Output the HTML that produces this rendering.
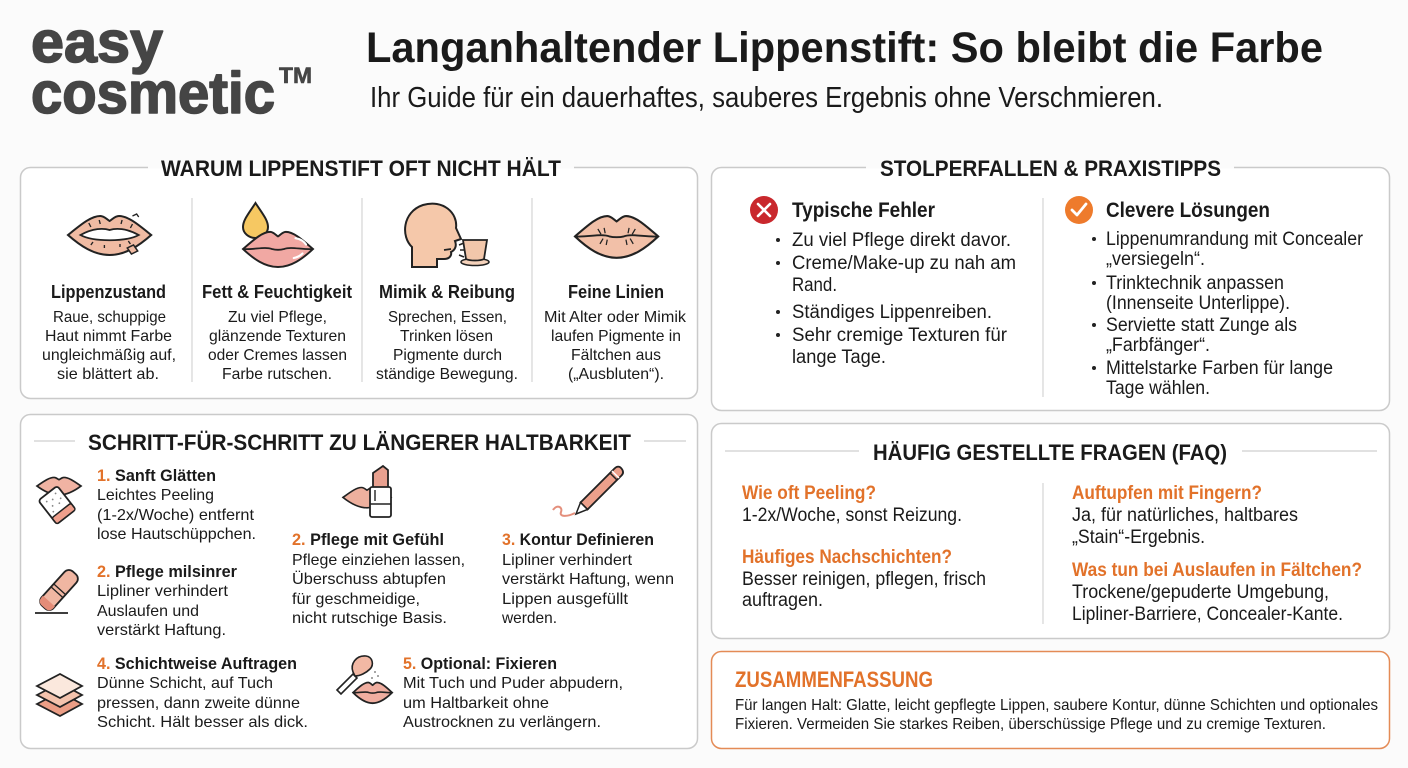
<!DOCTYPE html>
<html><head><meta charset="utf-8">
<style>
html,body{margin:0;padding:0;background:#fbfbfb;}
svg{display:block;}
text{font-family:"Liberation Sans Narrow","Liberation Sans",sans-serif;fill:#1a1a1a;}
.b{font-weight:700;}
.o{fill:#e2722a;}
.lg{fill:#454545;font-family:"Liberation Sans",sans-serif;font-weight:700;stroke:#454545;stroke-width:1.6;stroke-linejoin:round;}
</style></head>
<body>
<svg width="1408" height="768" viewBox="0 0 1408 768" xmlns="http://www.w3.org/2000/svg">
<defs>
<path id="lips" d="M0,20 C12,10 22,1 31,1 C35,1 38,5 40,6 C42,5 45,1 49,1 C58,1 68,10 80,20 C68,31 55,40 40,40 C25,40 12,31 0,20 Z"/>
</defs>
<rect width="1408" height="768" fill="#fbfbfb"/>

<!-- Header -->
<text class="lg" x="31" y="62" font-size="58" textLength="132" lengthAdjust="spacingAndGlyphs">easy</text>
<text class="lg" x="31" y="113" font-size="58" textLength="244" lengthAdjust="spacingAndGlyphs">cosmetic</text>
<text class="lg" x="279" y="83" font-size="22" textLength="33" lengthAdjust="spacingAndGlyphs" style="stroke-width:0.6">TM</text>
<text class="b" x="366" y="62" font-size="43" fill="#111" textLength="957" lengthAdjust="spacingAndGlyphs">Langanhaltender Lippenstift: So bleibt die Farbe</text>
<text x="370" y="107" font-size="29" textLength="793" lengthAdjust="spacingAndGlyphs">Ihr Guide für ein dauerhaftes, sauberes Ergebnis ohne Verschmieren.</text>

<!-- Boxes -->
<rect x="20.5" y="167.5" width="677" height="231" rx="10" fill="#fff" stroke="#cacaca" stroke-width="1.5"/>
<rect x="20.5" y="414.5" width="677" height="334" rx="10" fill="#fff" stroke="#cacaca" stroke-width="1.5"/>
<rect x="711.5" y="167.5" width="678" height="243" rx="10" fill="#fff" stroke="#cacaca" stroke-width="1.5"/>
<rect x="711.5" y="423.5" width="678" height="215" rx="10" fill="#fff" stroke="#cacaca" stroke-width="1.5"/>
<rect x="711.5" y="651.5" width="678" height="97" rx="10" fill="#fff" stroke="#e48b56" stroke-width="1.5"/>

<!-- Section 1 -->
<rect x="148" y="155" width="426" height="26" fill="#fbfbfb"/>
<rect x="148" y="168.5" width="426" height="14" fill="#fff"/>
<text class="b" x="161" y="176" font-size="22" textLength="400" lengthAdjust="spacingAndGlyphs">WARUM LIPPENSTIFT OFT NICHT HÄLT</text>
<line x1="192" y1="198" x2="192" y2="382" stroke="#d4d4d4" stroke-width="1.2"/>
<line x1="362" y1="198" x2="362" y2="382" stroke="#d4d4d4" stroke-width="1.2"/>
<line x1="532" y1="198" x2="532" y2="382" stroke="#d4d4d4" stroke-width="1.2"/>

<!-- icon 1 rough lips -->
<g transform="translate(68,215) scale(1.04,1)">
<use href="#lips" fill="#f0bba3" stroke="#222" stroke-width="2"/>
<path d="M12,20 C24,13 34,13 40,15 C46,13 56,13 68,20 C56,27 24,27 12,20 Z" fill="#fff" stroke="#222" stroke-width="1.8"/>
<path d="M20,8 l2,4 M30,5 l1,4 M52,5 l-1,4 M62,9 l-2,4 M22,30 l2,-3 M35,33 l0,-3 M50,32 l0,-3 M60,29 l-2,-3" stroke="#222" stroke-width="1.3"/>
<path d="M57,33 l6,-3 l4,6 l-6,3 Z" fill="#f0bba3" stroke="#222" stroke-width="1.5"/>
<path d="M62,1 l4,-2 l2,3" fill="none" stroke="#222" stroke-width="1.3"/>
</g>
<!-- icon 2 drop + glossy lips -->
<path d="M255.5,203 C262,213 268,220 268,227 A12.5,11 0 0 1 243,227 C243,220 249,213 255.5,203 Z" fill="#f6c862" stroke="#222" stroke-width="2"/>
<g transform="translate(243,231) scale(0.875,0.9)">
<use href="#lips" fill="#f1a8a3" stroke="#222" stroke-width="2.2"/>
<path d="M0,20 C12,21 25,17 33,20 C37,21 43,21 47,20 C55,17 68,21 80,20" fill="none" stroke="#222" stroke-width="2"/>
<path d="M60,8 C66,9 70,12 72,15 M58,30 C63,29 66,27 68,25" fill="none" stroke="#fff" stroke-width="2.4" stroke-linecap="round"/>
</g>
<!-- icon 3 head + cup -->
<path d="M412,267 L412,247 C401,237 402,212 423,205 C443,199 458,213 456,228 L461,239 L455,241 C457,246 455,250 451,252 C452,256 449,259 444,259 L437,259 L437,267 Z" fill="#f5c8aa" stroke="#222" stroke-width="2"/>
<path d="M444,250 l7,-1" stroke="#222" stroke-width="1.8"/>
<path d="M459,245 l5,-2 M460,250 l5,0 M459,255 l5,2" stroke="#222" stroke-width="1.5"/>
<ellipse cx="475" cy="262" rx="14" ry="3.5" fill="#f5d2bb" stroke="#222" stroke-width="1.6"/>
<path d="M463,240 L487,240 L484,259 C480,261 470,261 466,259 Z" fill="#f2c7ab" stroke="#222" stroke-width="1.8"/>
<!-- icon 4 lips with lines -->
<g transform="translate(575,215) scale(1.04,1.07)">
<use href="#lips" fill="#f2c0a8" stroke="#222" stroke-width="2"/>
<path d="M0,20 C12,21 25,17 33,20 C37,21 43,21 47,20 C55,17 68,21 80,20" fill="none" stroke="#222" stroke-width="1.8"/>
<path d="M22,13 l3,5 M28,12 l1,5 M52,12 l-1,5 M58,13 l-3,5 M24,27 l3,-5 M30,28 l1,-5 M50,28 l-1,-5 M56,27 l-3,-5" stroke="#222" stroke-width="1.2"/>
</g>

<text class="b" x="51" y="298" font-size="18" textLength="115" lengthAdjust="spacingAndGlyphs">Lippenzustand</text>
<text x="53" y="322" font-size="16" textLength="113" lengthAdjust="spacingAndGlyphs">Raue, schuppige</text>
<text x="45" y="341" font-size="16" textLength="127" lengthAdjust="spacingAndGlyphs">Haut nimmt Farbe</text>
<text x="42" y="360" font-size="16" textLength="134" lengthAdjust="spacingAndGlyphs">ungleichmäßig auf,</text>
<text x="57" y="379" font-size="16" textLength="102" lengthAdjust="spacingAndGlyphs">sie blättert ab.</text>

<text class="b" x="202" y="298" font-size="18" textLength="150" lengthAdjust="spacingAndGlyphs">Fett &amp; Feuchtigkeit</text>
<text x="228" y="322" font-size="16" textLength="99" lengthAdjust="spacingAndGlyphs">Zu viel Pflege,</text>
<text x="209" y="341" font-size="16" textLength="137" lengthAdjust="spacingAndGlyphs">glänzende Texturen</text>
<text x="208" y="360" font-size="16" textLength="139" lengthAdjust="spacingAndGlyphs">oder Cremes lassen</text>
<text x="222" y="379" font-size="16" textLength="110" lengthAdjust="spacingAndGlyphs">Farbe rutschen.</text>

<text class="b" x="379" y="298" font-size="18" textLength="136" lengthAdjust="spacingAndGlyphs">Mimik &amp; Reibung</text>
<text x="388" y="322" font-size="16" textLength="119" lengthAdjust="spacingAndGlyphs">Sprechen, Essen,</text>
<text x="400" y="341" font-size="16" textLength="93" lengthAdjust="spacingAndGlyphs">Trinken lösen</text>
<text x="393" y="360" font-size="16" textLength="109" lengthAdjust="spacingAndGlyphs">Pigmente durch</text>
<text x="376" y="379" font-size="16" textLength="142" lengthAdjust="spacingAndGlyphs">ständige Bewegung.</text>

<text class="b" x="568" y="298" font-size="18" textLength="96" lengthAdjust="spacingAndGlyphs">Feine Linien</text>
<text x="544" y="322" font-size="16" textLength="142" lengthAdjust="spacingAndGlyphs">Mit Alter oder Mimik</text>
<text x="551" y="341" font-size="16" textLength="130" lengthAdjust="spacingAndGlyphs">laufen Pigmente in</text>
<text x="571" y="360" font-size="16" textLength="90" lengthAdjust="spacingAndGlyphs">Fältchen aus</text>
<text x="568" y="379" font-size="16" textLength="96" lengthAdjust="spacingAndGlyphs">(„Ausbluten“).</text>

<!-- Section 2 -->
<line x1="34" y1="441" x2="75" y2="441" stroke="#cfcfcf" stroke-width="1.2"/>
<line x1="644" y1="441" x2="686" y2="441" stroke="#cfcfcf" stroke-width="1.2"/>
<text class="b" x="88" y="450" font-size="22" textLength="543" lengthAdjust="spacingAndGlyphs">SCHRITT-FÜR-SCHRITT ZU LÄNGERER HALTBARKEIT</text>

<!-- step icons -->
<g transform="translate(37,477) scale(0.55,0.45)">
<use href="#lips" fill="#f0b3a3" stroke="#222" stroke-width="3.5"/>
</g>
<g transform="rotate(-38 57 505)">
<rect x="45" y="490" width="24" height="30" rx="3" fill="#fff" stroke="#222" stroke-width="1.8"/>
<rect x="45" y="512" width="24" height="8" rx="2" fill="#ef9f8c" stroke="#222" stroke-width="1.5"/>
<circle cx="51" cy="496" r="0.9" fill="#888"/><circle cx="57" cy="498" r="0.9" fill="#888"/><circle cx="63" cy="495" r="0.9" fill="#888"/>
<circle cx="53" cy="503" r="0.9" fill="#888"/><circle cx="60" cy="505" r="0.9" fill="#888"/><circle cx="50" cy="508" r="0.9" fill="#888"/><circle cx="64" cy="502" r="0.9" fill="#888"/>
</g>
<g transform="rotate(-48 59 590)">
<rect x="36" y="582" width="46" height="16" rx="6" fill="#f0b6a2" stroke="#222" stroke-width="1.8"/>
<line x1="56" y1="582" x2="56" y2="598" stroke="#222" stroke-width="1.3"/>
<line x1="60" y1="582" x2="60" y2="598" stroke="#222" stroke-width="1.3"/>
<path d="M36,588 C36,582 40,582 44,582 L44,598 C40,598 36,598 36,592 Z" fill="#e48c78"/>
</g>
<line x1="35" y1="613" x2="68" y2="613" stroke="#222" stroke-width="1.8"/>
<path d="M37,704 L60,692 L82,704 L60,716 Z" fill="#ec9e86" stroke="#222" stroke-width="1.8"/>
<path d="M37,695 L60,683 L82,695 L60,707 Z" fill="#f4c3ad" stroke="#222" stroke-width="1.8"/>
<path d="M37,686 L60,674 L82,686 L60,698 Z" fill="#fbe8dd" stroke="#222" stroke-width="1.8"/>
<!-- lipstick -->
<g transform="translate(343,487) scale(0.6,0.52)">
<use href="#lips" fill="#eeb09e" stroke="#222" stroke-width="3"/>
</g>
<path d="M373,488 L373,473 L383,466 L388,470 L388,488 Z" fill="#e8a08f" stroke="#222" stroke-width="1.8"/>
<rect x="370" y="487" width="21" height="30" rx="2" fill="#fff" stroke="#222" stroke-width="1.8"/>
<line x1="370" y1="504" x2="391" y2="504" stroke="#222" stroke-width="1.4"/>
<line x1="375" y1="490" x2="375" y2="501" stroke="#222" stroke-width="1.4"/>
<!-- pencil -->
<path d="M553,510 C557,504 563,507 561,512 C559,517 567,517 575,513" fill="none" stroke="#e48f7c" stroke-width="2"/>
<path d="M587.5,509.5 L580.5,502.5 L614.5,468.5 C617,466 619.5,466 621.5,468.5 C623.5,471 623.5,473.5 621.5,475.5 Z" fill="#eca08b" stroke="#222" stroke-width="1.8"/>
<path d="M580.5,502.5 L576,514 L587.5,509.5 Z" fill="#fff" stroke="#222" stroke-width="1.5"/>
<path d="M610,473 L617,480" stroke="#222" stroke-width="1.5"/>
<path d="M612,471 L619,478" stroke="#fff" stroke-width="1.5"/>
<!-- brush + lips -->
<path d="M337,690 L353,674 L357,678 L341,694 Z" fill="#fff" stroke="#222" stroke-width="1.6"/>
<path d="M353,672 C350,664 356,655 366,656 C373,657 374,665 370,669 C366,673 360,676 355,676 Z" fill="#f2b8a4" stroke="#222" stroke-width="1.6"/>
<circle cx="375" cy="672" r="0.9" fill="#666"/><circle cx="378" cy="676" r="0.9" fill="#666"/><circle cx="372" cy="678" r="0.9" fill="#666"/>
<g transform="translate(353,682) scale(0.49,0.53)">
<use href="#lips" fill="#f0aea0" stroke="#222" stroke-width="3.4"/>
<path d="M0,20 C12,21 25,17 33,20 C37,21 43,21 47,20 C55,17 68,21 80,20" fill="none" stroke="#222" stroke-width="3"/>
</g>

<text class="b" x="97" y="481" font-size="17" textLength="119" lengthAdjust="spacingAndGlyphs"><tspan class="o">1.</tspan> Sanft Glätten</text>
<text x="97" y="500" font-size="16" textLength="117" lengthAdjust="spacingAndGlyphs">Leichtes Peeling</text>
<text x="97" y="520" font-size="16" textLength="157" lengthAdjust="spacingAndGlyphs">(1-2x/Woche) entfernt</text>
<text x="97" y="539" font-size="16" textLength="159" lengthAdjust="spacingAndGlyphs">lose Hautschüppchen.</text>

<text class="b" x="97" y="577" font-size="17" textLength="140" lengthAdjust="spacingAndGlyphs"><tspan class="o">2.</tspan> Pflege milsinrer</text>
<text x="97" y="596" font-size="16" textLength="131" lengthAdjust="spacingAndGlyphs">Lipliner verhindert</text>
<text x="97" y="616" font-size="16" textLength="102" lengthAdjust="spacingAndGlyphs">Auslaufen und</text>
<text x="97" y="635" font-size="16" textLength="129" lengthAdjust="spacingAndGlyphs">verstärkt Haftung.</text>

<text class="b" x="97" y="669" font-size="17" textLength="200" lengthAdjust="spacingAndGlyphs"><tspan class="o">4.</tspan> Schichtweise Auftragen</text>
<text x="97" y="688" font-size="16" textLength="176" lengthAdjust="spacingAndGlyphs">Dünne Schicht, auf Tuch</text>
<text x="97" y="708" font-size="16" textLength="203" lengthAdjust="spacingAndGlyphs">pressen, dann zweite dünne</text>
<text x="97" y="727" font-size="16" textLength="211" lengthAdjust="spacingAndGlyphs">Schicht. Hält besser als dick.</text>

<text class="b" x="292" y="545" font-size="17" textLength="152" lengthAdjust="spacingAndGlyphs"><tspan class="o">2.</tspan> Pflege mit Gefühl</text>
<text x="292" y="565" font-size="16" textLength="173" lengthAdjust="spacingAndGlyphs">Pflege einziehen lassen,</text>
<text x="292" y="584" font-size="16" textLength="154" lengthAdjust="spacingAndGlyphs">Überschuss abtupfen</text>
<text x="292" y="604" font-size="16" textLength="128" lengthAdjust="spacingAndGlyphs">für geschmeidige,</text>
<text x="292" y="623" font-size="16" textLength="155" lengthAdjust="spacingAndGlyphs">nicht rutschige Basis.</text>

<text class="b" x="502" y="545" font-size="17" textLength="152" lengthAdjust="spacingAndGlyphs"><tspan class="o">3.</tspan> Kontur Definieren</text>
<text x="502" y="565" font-size="16" textLength="130" lengthAdjust="spacingAndGlyphs">Lipliner verhindert</text>
<text x="502" y="584" font-size="16" textLength="172" lengthAdjust="spacingAndGlyphs">verstärkt Haftung, wenn</text>
<text x="502" y="604" font-size="16" textLength="126" lengthAdjust="spacingAndGlyphs">Lippen ausgefüllt</text>
<text x="502" y="623" font-size="16" textLength="55" lengthAdjust="spacingAndGlyphs">werden.</text>

<text class="b" x="403" y="669" font-size="17" textLength="154" lengthAdjust="spacingAndGlyphs"><tspan class="o">5.</tspan> Optional: Fixieren</text>
<text x="403" y="688" font-size="16" textLength="220" lengthAdjust="spacingAndGlyphs">Mit Tuch und Puder abpudern,</text>
<text x="403" y="708" font-size="16" textLength="146" lengthAdjust="spacingAndGlyphs">um Haltbarkeit ohne</text>
<text x="403" y="727" font-size="16" textLength="198" lengthAdjust="spacingAndGlyphs">Austrocknen zu verlängern.</text>

<!-- Section 3 -->
<rect x="866" y="155" width="368" height="26" fill="#fbfbfb"/>
<rect x="866" y="168.5" width="368" height="14" fill="#fff"/>
<text class="b" x="880" y="176" font-size="22" textLength="341" lengthAdjust="spacingAndGlyphs">STOLPERFALLEN &amp; PRAXISTIPPS</text>
<line x1="1043" y1="198" x2="1043" y2="397" stroke="#d4d4d4" stroke-width="1.2"/>
<circle cx="764" cy="210" r="14" fill="#c9282d"/>
<path d="M758,204 L770,216 M770,204 L758,216" stroke="#fff" stroke-width="2.6" stroke-linecap="round"/>
<circle cx="1079" cy="210" r="14" fill="#ee7b2c"/>
<path d="M1072,210 L1077,215 L1086,204" fill="none" stroke="#fff" stroke-width="2.8" stroke-linecap="round" stroke-linejoin="round"/>
<text class="b" x="792" y="217" font-size="21" textLength="143" lengthAdjust="spacingAndGlyphs">Typische Fehler</text>
<text class="b" x="1106" y="217" font-size="21" textLength="164" lengthAdjust="spacingAndGlyphs">Clevere Lösungen</text>

<g fill="#222"><circle cx="778" cy="240" r="2"/><circle cx="778" cy="263" r="2"/><circle cx="778" cy="312" r="2"/><circle cx="778" cy="335" r="2"/>
<circle cx="1094" cy="239" r="2"/><circle cx="1094" cy="283" r="2"/><circle cx="1094" cy="325" r="2"/><circle cx="1094" cy="368" r="2"/></g>
<text x="792" y="246" font-size="19" textLength="219" lengthAdjust="spacingAndGlyphs">Zu viel Pflege direkt davor.</text>
<text x="792" y="269" font-size="19" textLength="224" lengthAdjust="spacingAndGlyphs">Creme/Make-up zu nah am</text>
<text x="792" y="291" font-size="19" textLength="45" lengthAdjust="spacingAndGlyphs">Rand.</text>
<text x="792" y="318" font-size="19" textLength="200" lengthAdjust="spacingAndGlyphs">Ständiges Lippenreiben.</text>
<text x="792" y="341" font-size="19" textLength="215" lengthAdjust="spacingAndGlyphs">Sehr cremige Texturen für</text>
<text x="792" y="363" font-size="19" textLength="94" lengthAdjust="spacingAndGlyphs">lange Tage.</text>

<text x="1106" y="245" font-size="19" textLength="257" lengthAdjust="spacingAndGlyphs">Lippenumrandung mit Concealer</text>
<text x="1106" y="265" font-size="19" textLength="99" lengthAdjust="spacingAndGlyphs">„versiegeln“.</text>
<text x="1106" y="289" font-size="19" textLength="178" lengthAdjust="spacingAndGlyphs">Trinktechnik anpassen</text>
<text x="1106" y="309" font-size="19" textLength="184" lengthAdjust="spacingAndGlyphs">(Innenseite Unterlippe).</text>
<text x="1106" y="331" font-size="19" textLength="191" lengthAdjust="spacingAndGlyphs">Serviette statt Zunge als</text>
<text x="1106" y="351" font-size="19" textLength="104" lengthAdjust="spacingAndGlyphs">„Farbfänger“.</text>
<text x="1106" y="374" font-size="19" textLength="227" lengthAdjust="spacingAndGlyphs">Mittelstarke Farben für lange</text>
<text x="1106" y="394" font-size="19" textLength="104" lengthAdjust="spacingAndGlyphs">Tage wählen.</text>

<!-- Section 4 FAQ -->
<line x1="725" y1="451" x2="859" y2="451" stroke="#cfcfcf" stroke-width="1.2"/>
<line x1="1242" y1="451" x2="1377" y2="451" stroke="#cfcfcf" stroke-width="1.2"/>
<text class="b" x="873" y="460" font-size="22" textLength="354" lengthAdjust="spacingAndGlyphs">HÄUFIG GESTELLTE FRAGEN (FAQ)</text>
<line x1="1043" y1="483" x2="1043" y2="624" stroke="#d4d4d4" stroke-width="1.2"/>
<text class="b o" x="742" y="499" font-size="19" textLength="134" lengthAdjust="spacingAndGlyphs">Wie oft Peeling?</text>
<text x="742" y="521" font-size="19" textLength="220" lengthAdjust="spacingAndGlyphs">1-2x/Woche, sonst Reizung.</text>
<text class="b o" x="742" y="563" font-size="19" textLength="210" lengthAdjust="spacingAndGlyphs">Häufiges Nachschichten?</text>
<text x="742" y="585" font-size="19" textLength="244" lengthAdjust="spacingAndGlyphs">Besser reinigen, pflegen, frisch</text>
<text x="742" y="606" font-size="19" textLength="81" lengthAdjust="spacingAndGlyphs">auftragen.</text>

<text class="b o" x="1072" y="499" font-size="19" textLength="190" lengthAdjust="spacingAndGlyphs">Auftupfen mit Fingern?</text>
<text x="1072" y="521" font-size="19" textLength="226" lengthAdjust="spacingAndGlyphs">Ja, für natürliches, haltbares</text>
<text x="1072" y="543" font-size="19" textLength="133" lengthAdjust="spacingAndGlyphs">„Stain“-Ergebnis.</text>
<text class="b o" x="1072" y="576" font-size="19" textLength="290" lengthAdjust="spacingAndGlyphs">Was tun bei Auslaufen in Fältchen?</text>
<text x="1072" y="598" font-size="19" textLength="257" lengthAdjust="spacingAndGlyphs">Trockene/gepuderte Umgebung,</text>
<text x="1072" y="620" font-size="19" textLength="271" lengthAdjust="spacingAndGlyphs">Lipliner-Barriere, Concealer-Kante.</text>

<!-- Summary -->
<text class="b o" x="735" y="687" font-size="22" textLength="198" lengthAdjust="spacingAndGlyphs">ZUSAMMENFASSUNG</text>
<text x="735" y="710" font-size="16" textLength="643" lengthAdjust="spacingAndGlyphs">Für langen Halt: Glatte, leicht gepflegte Lippen, saubere Kontur, dünne Schichten und optionales</text>
<text x="735" y="729" font-size="16" textLength="591" lengthAdjust="spacingAndGlyphs">Fixieren. Vermeiden Sie starkes Reiben, überschüssige Pflege und zu cremige Texturen.</text>
</svg>
</body></html>
